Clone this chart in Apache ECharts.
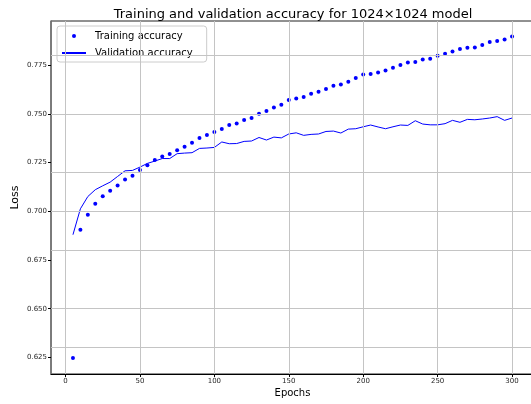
<!DOCTYPE html>
<html>
<head>
<meta charset="utf-8">
<script src="https://cdn.jsdelivr.net/npm/echarts@6/dist/echarts.min.js"></script>
<style>
  html, body { margin: 0; padding: 0; background: #fff; }
  #chart { width: 531px; height: 404px; }
</style>
</head>
<body>
<div id="chart"></div>
<script>
// epochs 5..300 step 5
const epochs = [
  5, 10, 15, 20, 25, 30, 35, 40, 45, 50, 55, 60, 65, 70, 75, 80, 85, 90, 95, 100,
  105, 110, 115, 120, 125, 130, 135, 140, 145, 150, 155, 160, 165, 170, 175, 180, 185, 190, 195, 200,
  205, 210, 215, 220, 225, 230, 235, 240, 245, 250, 255, 260, 265, 270, 275, 280, 285, 290, 295, 300
];
const trainAcc = [
  0.6247, 0.6905, 0.6983, 0.7039, 0.7078, 0.7106, 0.7133, 0.7164, 0.7183, 0.7212,
  0.7236, 0.7263, 0.7282, 0.7294, 0.7313, 0.7331, 0.7352, 0.7376, 0.7392, 0.7407,
  0.7422, 0.7443, 0.7451, 0.7469, 0.7479, 0.7501, 0.7515, 0.7533, 0.7547, 0.7571,
  0.7579, 0.7587, 0.7604, 0.7614, 0.7628, 0.7645, 0.7651, 0.7665, 0.7684, 0.7703,
  0.7705, 0.7713, 0.7723, 0.7737, 0.7751, 0.7764, 0.7766, 0.7780, 0.7783, 0.7799,
  0.7809, 0.7821, 0.7833, 0.7840, 0.7841, 0.7854, 0.7869, 0.7874, 0.7882, 0.7898
];
const valAcc = [
  0.6880, 0.7013, 0.7076, 0.7111, 0.7131, 0.7150, 0.7179, 0.7208, 0.7210, 0.7227,
  0.7246, 0.7258, 0.7271, 0.7271, 0.7296, 0.7299, 0.7301, 0.7323, 0.7325, 0.7328,
  0.7356, 0.7347, 0.7348, 0.7359, 0.7361, 0.7379, 0.7366, 0.7381, 0.7377, 0.7397,
  0.7403, 0.7390, 0.7395, 0.7397, 0.7410, 0.7412, 0.7402, 0.7422, 0.7424, 0.7434,
  0.7443, 0.7433, 0.7424, 0.7434, 0.7443, 0.7441, 0.7465, 0.7448, 0.7444, 0.7444,
  0.7450, 0.7467, 0.7457, 0.7472, 0.7470, 0.7474, 0.7479, 0.7486, 0.7467, 0.7479
];
const xTicks = [0, 50, 100, 150, 200, 250, 300];
const yTicks = [0.625, 0.650, 0.675, 0.700, 0.725, 0.750, 0.775];

const font = 'DejaVu Sans';
const chart = echarts.init(document.getElementById('chart'), null, { renderer: 'canvas' });

// grid lines drawn as markLines so they sit on the tick values
const gridLines = xTicks.map(v => ({ xAxis: v })).concat(yTicks.map(v => ({ yAxis: v })));

const option = {
  animation: false,
  backgroundColor: '#fff',
  textStyle: { fontFamily: font },
  title: {
    text: 'Training and validation accuracy for 1024\u00d71024 model',
    left: 288,
    textAlign: 'center',
    top: 3,
    textStyle: { fontFamily: font, fontSize: 13, fontWeight: 'normal', color: '#000' }
  },
  legend: {
    data: [
      { name: 'Training accuracy' },
      { name: 'Validation accuracy', itemStyle: { opacity: 0 } }
    ],
    orient: 'vertical',
    left: 57,
    top: 26,
    padding: [4, 14, 3, 4],
    itemGap: 5,
    itemWidth: 24,
    itemHeight: 5,
    backgroundColor: '#fff',
    borderColor: '#cccccc',
    borderWidth: 1,
    borderRadius: 3,
    textStyle: { fontFamily: font, fontSize: 10, color: '#000', lineHeight: 12, padding: [0, 0, 0, 4] }
  },
  grid: {
    left: 51,
    top: 21,
    width: 483,
    height: 353,
    outerBoundsMode: 'none',
    containLabel: false,
    show: true,
    borderColor: '#222',
    borderWidth: 1
  },
  xAxis: {
    type: 'value',
    min: -9.75,
    max: 314.75,
    name: 'Epochs',
    nameLocation: 'middle',
    nameGap: 14,
    nameMoveOverlap: false,
    nameTextStyle: { fontFamily: font, fontSize: 10, color: '#000' },
    axisLine: { onZero: false, lineStyle: { color: '#000', width: 1 } },
    axisTick: { show: true, length: 3, customValues: xTicks, lineStyle: { color: '#000' } },
    axisLabel: { customValues: xTicks, fontFamily: font, fontSize: 7, color: '#262626', margin: 4 },
    splitLine: { show: false }
  },
  yAxis: {
    type: 'value',
    min: 0.6165,
    max: 0.7977,
    name: 'Loss',
    nameLocation: 'middle',
    nameRotate: 90,
    nameGap: 30,
    nameMoveOverlap: false,
    nameTextStyle: { fontFamily: font, fontSize: 11, color: '#000' },
    axisLine: { show: true, onZero: false, lineStyle: { color: '#777', width: 1.6 } },
    axisTick: { show: true, length: 3, customValues: yTicks, lineStyle: { color: '#000' } },
    axisLabel: {
      customValues: yTicks,
      fontFamily: font,
      fontSize: 7,
      color: '#262626',
      margin: 4,
      formatter: v => v.toFixed(3)
    },
    splitLine: { show: false }
  },
  series: [
    {
      name: 'grid',
      type: 'line',
      data: [],
      z: 1,
      markLine: {
        silent: true,
        symbol: ['none', 'none'],
        label: { show: false },
        lineStyle: { color: '#c4c4c4', type: 'solid', width: 1 },
        emphasis: { disabled: true },
        data: gridLines
      }
    },
    {
      name: 'Training accuracy',
      type: 'line',
      z: 3,
      data: epochs.map((e, i) => [e, trainAcc[i]]),
      symbol: 'circle',
      symbolSize: 4,
      showSymbol: true,
      itemStyle: { color: '#0000ff' },
      lineStyle: { width: 0, opacity: 0 }
    },
    {
      name: 'Validation accuracy',
      type: 'line',
      z: 3,
      data: epochs.map((e, i) => [e, valAcc[i]]),
      symbol: 'none',
      itemStyle: { color: '#0000ff' },
      lineStyle: { color: '#0000ff', width: 1 }
    }
  ]
};

chart.setOption(option);
</script>
</body>
</html>
